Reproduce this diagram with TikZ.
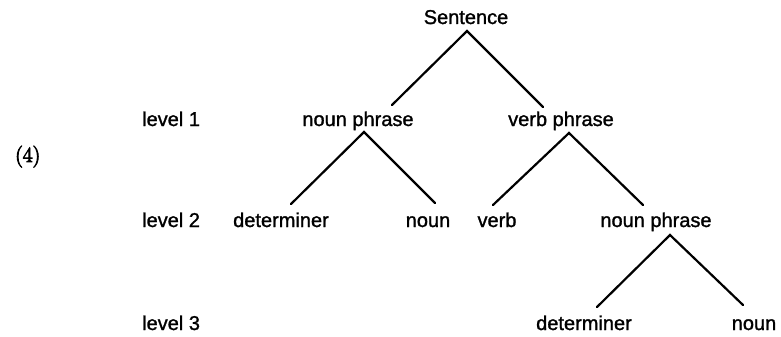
\documentclass[tikz,border=0pt]{standalone}
\usepackage{fontspec}
\newfontfamily\lblfont{Liberation Sans}[BoldFont={Liberation Sans}, BoldFeatures={FakeBold=1.3}]
\newfontfamily\exfont{Latin Modern Roman}[BoldFont={Latin Modern Roman}, BoldFeatures={FakeBold=4}]
\begin{document}
\begin{tikzpicture}[x=1pt,y=-1pt,
  lbl/.style={font=\lblfont\bfseries\fontsize{20}{24}\selectfont, inner sep=0pt, anchor=base},
  lvl/.style={lbl, anchor=base west},
  branch/.style={line width=2.2pt, line cap=round}]
\useasboundingbox (0,0) rectangle (781,337);
% labels
\node[font=\exfont\bfseries\fontsize{21.5}{24}\selectfont, inner sep=0pt, anchor=base west] (ex) at (15,162) {(4)};
\node[lvl] (l1) at (142,126) {level 1};
\node[lvl] (l2) at (142,227) {level 2};
\node[lvl] (l3) at (142,330) {level 3};
% tree nodes
\node[lbl] (s) at (466,24) {Sentence};
\node[lbl] (np1) at (358,126) {noun phrase};
\node[lbl] (vp) at (561,126) {verb phrase};
\node[lbl] (det1) at (281,227) {determiner};
\node[lbl] (n1) at (428,227) {noun};
\node[lbl] (v) at (497,227) {verb};
\node[lbl] (np2) at (656,227) {noun phrase};
\node[lbl] (det2) at (584,330) {determiner};
\node[lbl] (n2) at (754,330) {noun};
% connector ends
\coordinate (s-a) at (467,31);
\coordinate (np1-t) at (392,105);
\coordinate (vp-t) at (543,107);
\coordinate (np1-a) at (364,132);
\coordinate (det1-t) at (291,204);
\coordinate (n1-t) at (435,203);
\coordinate (vp-a) at (569,133);
\coordinate (v-t) at (493,205);
\coordinate (np2-t) at (643,205);
\coordinate (np2-a) at (670,235);
\coordinate (det2-t) at (597,307);
\coordinate (n2-t) at (743,305);
% branches
\draw[branch] (np1-t) -- (s-a) -- (vp-t);
\draw[branch] (det1-t) -- (np1-a) -- (n1-t);
\draw[branch] (v-t) -- (vp-a) -- (np2-t);
\draw[branch] (det2-t) -- (np2-a) -- (n2-t);
\end{tikzpicture}
\end{document}
